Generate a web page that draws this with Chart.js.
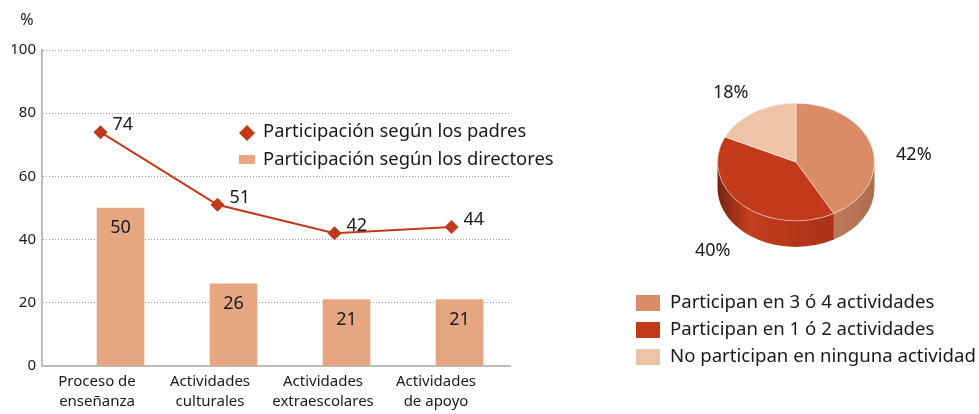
<!DOCTYPE html>
<html><head><meta charset="utf-8">
<script src="https://cdn.jsdelivr.net/npm/chart.js@4"></script>
<style>
body{margin:0;background:#fff;}
#wrap{position:relative;width:979px;height:414px;}
canvas{position:absolute;left:0;top:0;}
</style></head><body>
<div id="wrap">
<canvas id="barras" width="979" height="414"></canvas>
<canvas id="torta" width="979" height="414"></canvas>
</div>
<script>
const categorias=[["Proceso de","enseñanza"],["Actividades","culturales"],["Actividades","extraescolares"],["Actividades","de apoyo"]];
const padres=[74,51,42,44];
const directores=[50,26,21,21];
const serieNombres=["Participación según los padres","Participación según los directores"];
const tortaLabels=["Participan en 3 ó 4 actividades","Participan en 1 ó 2 actividades","No participan en ninguna actividad"];
const tortaValores=[42,40,18];

const FONT='"Noto Sans", sans-serif';
const TXT='#1a1a1a';
const rojo='#C0391B';
const salmon='#E5A681';
const tortaColores=['#DB8B65','#C13A1A','#EDC4A7'];

function shade(hex,p){
  var n=parseInt(hex.slice(1),16);
  var r=n>>16,g=(n>>8)&255,b=n&255;
  function f(c){return Math.max(0,Math.min(255,Math.round(p<0?c*(1+p):c+(255-c)*p)));}
  return 'rgb('+f(r)+','+f(g)+','+f(b)+')';
}

// ---- grafico de barras + linea ----
const etiquetasBarras={
  id:'etiquetasBarras',
  afterDatasetsDraw(chart){
    const ctx=chart.ctx;
    ctx.save();
    ctx.fillStyle=TXT;
    ctx.font='18px '+FONT;
    ctx.textAlign='center';ctx.textBaseline='middle';
    chart.getDatasetMeta(1).data.forEach(function(b,i){
      ctx.fillText(directores[i],b.x,b.y+20);
    });
    ctx.textAlign='left';
    chart.getDatasetMeta(0).data.forEach(function(p,i){
      ctx.fillText(padres[i],p.x+12,p.y-7);
    });
    // %
    ctx.font='16px '+FONT;
    ctx.textAlign='center';
    ctx.fillText('%',27,20);
    // leyenda
    ctx.font='18.4px '+FONT;
    ctx.textAlign='left';
    ctx.fillStyle=rojo;
    ctx.beginPath();
    ctx.moveTo(247,125);ctx.lineTo(255,133);ctx.lineTo(247,141);ctx.lineTo(239,133);ctx.closePath();
    ctx.fill();
    ctx.fillStyle=salmon;
    ctx.fillRect(239,155,16,9);
    ctx.fillStyle=TXT;
    ctx.fillText(serieNombres[0],263,132);
    ctx.fillText(serieNombres[1],263,160);
    ctx.restore();
  }
};

new Chart(document.getElementById('barras'),{
  type:'bar',
  data:{
    datasets:[
      {type:'line',label:serieNombres[0],data:padres,xAxisID:'x2',borderColor:rojo,backgroundColor:rojo,
       borderWidth:2,pointStyle:'rectRot',pointRadius:7,pointBackgroundColor:rojo,pointBorderWidth:0,tension:0,order:0},
      {type:'bar',label:serieNombres[1],data:directores.map(function(v,i){return {x:i,y:v};}),xAxisID:'x',
       backgroundColor:salmon,barThickness:47,order:1}
    ]
  },
  options:{
    responsive:false,animation:false,
    layout:{padding:{left:0,top:50,right:469,bottom:0}},
    plugins:{legend:{display:false},tooltip:{enabled:false}},
    scales:{
      x:{type:'linear',min:-0.487,max:3.655,offset:false,bounds:'ticks',
        afterBuildTicks:function(ax){ax.ticks=categorias.map(function(c,i){return {value:i};});},
        afterFit:function(ax){ax.height=48;},
        ticks:{callback:function(v){return categorias[v];},font:{family:FONT,size:15,lineHeight:1.3},color:TXT,padding:6,maxRotation:0,autoSkip:false},
        grid:{display:false,drawTicks:false},
        border:{display:true,color:'#bdbdbd',width:2}},
      x2:{type:'category',labels:categorias.map(function(c){return c.join(' ');}),offset:true,display:false},
      y:{min:0,max:100,
        afterFit:function(ax){ax.width=42;},
        ticks:{stepSize:20,font:{family:FONT,size:15},color:TXT,padding:6},
        grid:{color:'#9a9a9a',lineWidth:1,drawTicks:false},
        border:{display:true,color:'#bdbdbd',width:2,dash:[1,2]}}
    }
  },
  plugins:[etiquetasBarras]
});

// ---- torta 3D ----
const ESC=0.75, PROF=26;
const torta3D={
  id:'torta3D',
  beforeDatasetsDraw(chart){
    const ctx=chart.ctx;
    const arcs=chart.getDatasetMeta(0).data;
    const cx=arcs[0].x, cy=arcs[0].y, r=arcs[0].outerRadius;
    ctx.save();
    arcs.forEach(function(a,i){
      const s=Math.max(a.startAngle,0), e=Math.min(a.endAngle,Math.PI);
      if(s>=e) return;
      const c=tortaColores[i];
      const g=ctx.createLinearGradient(cx-r,0,cx+r,0);
      g.addColorStop(0,shade(c,-0.38));
      g.addColorStop(0.2,shade(c,0.02));
      g.addColorStop(0.55,shade(c,-0.08));
      g.addColorStop(1,shade(c,-0.2));
      ctx.fillStyle=g;
      ctx.beginPath();
      ctx.ellipse(cx,cy,r,r*ESC,0,s,e);
      ctx.ellipse(cx,cy+PROF,r,r*ESC,0,e,s,true);
      ctx.closePath();
      ctx.fill();
    });
    ctx.restore();
    ctx.save();
    ctx.translate(cx,cy);ctx.scale(1,ESC);ctx.translate(-cx,-cy);
  },
  afterDatasetsDraw(chart){
    const ctx=chart.ctx;
    ctx.restore();
    const arcs=chart.getDatasetMeta(0).data;
    const cx=arcs[0].x, cy=arcs[0].y, r=arcs[0].outerRadius;
    ctx.save();
    ctx.fillStyle=TXT;
    ctx.font='18px '+FONT;
    ctx.textAlign='center';ctx.textBaseline='middle';
    arcs.forEach(function(a,i){
      const m=(a.startAngle+a.endAngle)/2, sn=Math.sin(m);
      const x=cx+Math.cos(m)*r*1.55;
      const y=cy+sn*r*ESC*1.45+(sn>0.3?PROF*0.85:0)+PROF*0.7*(1-Math.abs(sn));
      ctx.fillText(tortaValores[i]+'%',x,y);
    });
    // leyenda
    ctx.textAlign='left';
    tortaLabels.forEach(function(t,i){
      const y=303+i*27;
      ctx.fillStyle=tortaColores[i];
      ctx.fillRect(636,y-8,24,16);
      ctx.fillStyle=TXT;
      ctx.font='18.6px '+FONT;
      ctx.fillText(t,670,y);
    });
    ctx.restore();
  }
};

new Chart(document.getElementById('torta'),{
  type:'pie',
  data:{labels:tortaLabels,datasets:[{data:tortaValores,backgroundColor:tortaColores,borderColor:'rgba(255,255,255,0.55)',borderWidth:1}]},
  options:{
    responsive:false,animation:false,
    layout:{padding:{left:717,right:104,top:83,bottom:173}},
    plugins:{legend:{display:false},tooltip:{enabled:false}}
  },
  plugins:[torta3D]
});
</script>
</body></html>
